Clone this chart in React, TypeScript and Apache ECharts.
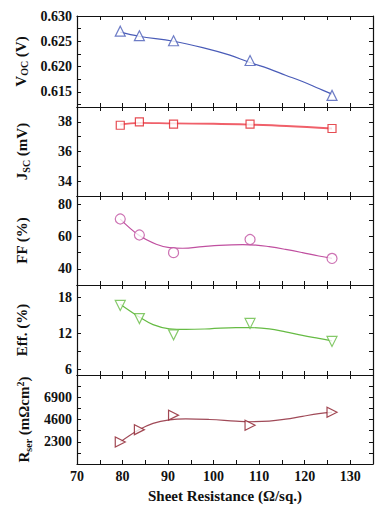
import React, { useEffect, useRef } from "react";
import * as echarts from "echarts";

// ---- data ----
const sheetRes = [79.5, 83.7, 91.2, 108, 126];
const voc = [0.627, 0.6261, 0.6251, 0.6212, 0.6143];
const jsc = [37.77, 38.0, 37.85, 37.84, 37.55];
const ff = [70.8, 60.9, 50.0, 58.1, 46.4];
const eff = [16.6, 14.4, 11.7, 13.6, 10.6];
const rser = [2280, 3550, 5050, 4000, 5350];

const vocFitX = [79.5, 83.6, 91.2, 97.6, 103.4, 107.8, 112.2, 115.8, 119.5, 123.1, 126];
const vocFitY = [0.6268, 0.626, 0.625, 0.62375, 0.6223, 0.62085, 0.61954, 0.61829, 0.61704, 0.61566, 0.61454];
const jscFitX = [79.5, 83.7, 91.2, 100, 108, 116, 126];
const jscFitY = [37.82, 37.93, 37.89, 37.87, 37.81, 37.72, 37.55];
const ffFitX = [79.5, 83.6, 87.4, 90.3, 93.2, 97.6, 101.2, 106.4, 109.3, 112.2, 115.8, 119.5, 123.1, 126];
const ffFitY = [70.7, 60.7, 55.2, 53.1, 52.7, 53.7, 54.5, 54.9, 54.7, 53.7, 52.0, 50.0, 47.9, 46.5];
const effFitX = [79.5, 83.6, 86.7, 90.3, 93.9, 99.1, 104.9, 107.8, 112.2, 115.8, 119.5, 123.1, 126];
const effFitY = [16.8, 14.7, 13.4, 12.7, 12.6, 12.7, 12.9, 12.9, 12.7, 12.2, 11.6, 11.1, 10.7];
const rserFitX = [79.5, 83.6, 86.7, 90.3, 93.9, 99.1, 104.9, 107.8, 112.2, 115.8, 119.5, 123.1, 126];
const rserFitY = [2270, 3530, 4200, 4570, 4670, 4600, 4430, 4370, 4430, 4630, 4930, 5200, 5330];

// axis ranges / ticks
const yMins = [0.612, 33, 30, 5, 0];
const yMaxs = [0.63, 39, 85, 20, 9200];
const yTicks = [
  [0.6125, 0.615, 0.6175, 0.62, 0.6225, 0.625, 0.6275],
  [34, 35, 36, 37, 38],
  [40, 50, 60, 70, 80],
  [6, 9, 12, 15, 18],
  [1150, 2300, 3450, 4600, 5750, 6900, 8050],
];
const yLabels = [
  [0.615, 0.62, 0.625, 0.63],
  [34, 36, 38],
  [40, 60, 80],
  [6, 12, 18],
  [2300, 4600, 6900],
];
const xMin = 70;
const xMax = 135;
const xStep = 5;

const FONT = "Liberation Serif";
const colors = ["#4a5cb8", "#e02028", "#c050a0", "#66bb44", "#8b1a28"];
const lineColors = ["#4a5cb8", "#f0606a", "#c050a0", "#66bb44", "#a04a58"];
const symbols = ["triangle", "rect", "circle", "triangle", "triangle"];
const rotates = [0, 0, 0, 180, -90];

const panelTops = [16, 107, 196, 285, 375];
const panelHeights = [91, 89, 89, 90, 89];

const richBase = {
  a: { fontFamily: FONT, fontWeight: "bold", fontSize: 15, color: "#111", lineHeight: 18 },
  s: {
    fontFamily: FONT,
    fontWeight: "bold",
    fontSize: 10,
    color: "#111",
    verticalAlign: "bottom",
    padding: [6, 0, 0, 0],
  },
  p: {
    fontFamily: FONT,
    fontWeight: "bold",
    fontSize: 10,
    color: "#111",
    verticalAlign: "top",
  },
};
const yNames = [
  "{a|V}{s|OC}{a| (V)}",
  "{a|J}{s|SC}{a| (mV)}",
  "{a|FF (%)}",
  "{a|Eff. (%)}",
  "{a|R}{s|ser}{a| (mΩcm}{p|2}{a|)}",
];
const yNameGaps = [46, 46, 46, 46, 40];

export default function App() {
  const ref = useRef<HTMLDivElement>(null);
  useEffect(() => {
    if (!ref.current) return;
    const chart = echarts.init(ref.current, null, { renderer: "svg" });
    const lineStyle = { color: "#111", width: 1.2 };
    const grids: any[] = [];
    const xAxes: any[] = [];
    const yAxes: any[] = [];
    const series: any[] = [];
    const pts = [voc, jsc, ff, eff, rser];
    const fitX = [vocFitX, jscFitX, ffFitX, effFitX, rserFitX];
    const fitY = [vocFitY, jscFitY, ffFitY, effFitY, rserFitY];
    for (let i = 0; i < 5; i++) {
      grids.push({ left: 77, width: 296, top: panelTops[i], height: panelHeights[i] });
      const isLast = i === 4;
      const xBase = {
        gridIndex: i,
        type: "value",
        min: xMin,
        max: xMax,
        interval: xStep,
        splitLine: { show: false },
        axisLine: { show: true, onZero: false, lineStyle },
        axisTick: { inside: true, length: 4, lineStyle: { color: "#111", width: 1 } },
      };
      xAxes.push({
        ...xBase,
        position: "bottom",
        axisLabel: {
          show: isLast,
          margin: 5,
          fontFamily: FONT,
          fontWeight: "bold",
          fontSize: 14,
          color: "#111",
          formatter: (v: number) => (v % 10 === 0 && v < 135 ? String(v) : ""),
        },
        name: isLast ? "Sheet Resistance (Ω/sq.)" : "",
        nameLocation: "middle",
        nameGap: 24,
        nameTextStyle: { fontFamily: FONT, fontWeight: "bold", fontSize: 15, color: "#111" },
      });
      xAxes.push({ ...xBase, position: "top", axisLabel: { show: false } });

      const digits = i === 0 ? 3 : 0;
      const yBase = {
        gridIndex: i,
        type: "value",
        min: yMins[i],
        max: yMaxs[i],
        splitLine: { show: false },
        axisLine: { show: true, onZero: false, lineStyle },
        axisTick: {
          inside: true,
          length: 4,
          customValues: yTicks[i],
          lineStyle: { color: "#111", width: 1 },
        },
      };
      yAxes.push({
        ...yBase,
        position: "left",
        axisLabel: {
          show: true,
          margin: 5,
          customValues: yLabels[i],
          fontFamily: FONT,
          fontWeight: "bold",
          fontSize: 14,
          color: "#111",
          formatter: (v: number) => v.toFixed(digits),
        },
        name: yNames[i],
        nameLocation: "middle",
        nameRotate: 90,
        nameGap: yNameGaps[i],
        nameTextStyle: { rich: richBase },
      });
      yAxes.push({ ...yBase, position: "right", axisLabel: { show: false } });

      series.push({
        type: "line",
        xAxisIndex: 2 * i,
        yAxisIndex: 2 * i,
        data: fitX[i].map((x, k) => [x, fitY[i][k]]),
        smooth: 0.4,
        showSymbol: false,
        symbol: "none",
        lineStyle: { color: lineColors[i], width: i === 1 ? 1.8 : 1.2 },
        z: 2,
      });
      series.push({
        type: "scatter",
        xAxisIndex: 2 * i,
        yAxisIndex: 2 * i,
        data: sheetRes.map((x, k) => [x, pts[i][k]]),
        symbol: symbols[i],
        symbolRotate: rotates[i],
        symbolSize: i === 1 ? 8 : 10,
        itemStyle: { color: "#ffffff", borderColor: colors[i], borderWidth: 1.2 },
        z: 3,
      });
    }
    chart.setOption({
      animation: false,
      backgroundColor: "#ffffff",
      grid: grids,
      xAxis: xAxes,
      yAxis: yAxes,
      series,
    });
    return () => chart.dispose();
  }, []);
  return (
    <div
      ref={ref}
      style={{ position: "absolute", left: 0, top: 0, width: 386, height: 512, background: "#fff" }}
    />
  );
}
